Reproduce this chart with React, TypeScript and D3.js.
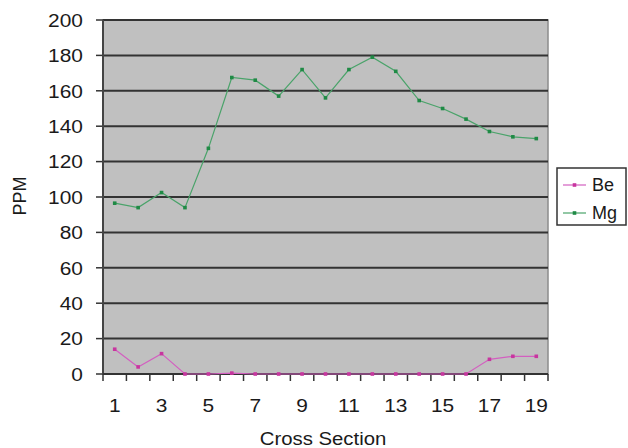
import React from "react";
import * as d3 from "d3";

const categories = ["1","2","3","4","5","6","7","8","9","10","11","12","13","14","15","16","17","18","19"];
const beValues = [14, 4, 11.5, 0, 0, 0.5, 0, 0, 0, 0, 0, 0, 0, 0, 0, 0, 8.3, 10, 10];
const mgValues = [96.5, 94, 102.5, 94, 127.5, 167.5, 166, 157, 172, 156, 172, 179, 171, 154.5, 150, 144, 137, 134, 133];
const yTicks = [0, 20, 40, 60, 80, 100, 120, 140, 160, 180, 200];
const seriesNames = ["Be", "Mg"];

const W = 628, H = 448;
const L = 103, R = 548, T = 20, B = 374;

export default function App() {
  const x = d3.scaleBand<string>().domain(categories).range([L, R]).paddingInner(0).paddingOuter(0);
  const y = d3.scaleLinear().domain([0, 200]).range([B, T]);
  const cx = (c: string) => (x(c) as number) + x.bandwidth() / 2;
  const line = d3.line<number>().x((_, i) => cx(categories[i])).y(d => y(d));
  const series = [
    { name: seriesNames[0], values: beValues, color: "#d35fc0", marker: "#c8359f" },
    { name: seriesNames[1], values: mgValues, color: "#4aa36a", marker: "#1f8a45" },
  ];
  const font = "Liberation Sans, Arial, sans-serif";
  const bounds = categories.map(c => x(c) as number).concat([R]);
  return (
    <svg width={W} height={H} style={{ position: "absolute", left: 0, top: 0, background: "#fff" }} fontFamily={font}>
      <rect x={L} y={T} width={R - L} height={B - T} fill="#c0c0c0" stroke="#8c8c8c" strokeWidth={1.5} />
      {yTicks.filter(t => t > 0).map(t => (
        <line key={t} x1={L} x2={R} y1={y(t)} y2={y(t)} stroke="#333" strokeWidth={2} />
      ))}
      {yTicks.map(t => (
        <g key={"yt" + t}>
          <line x1={L - 7} x2={L} y1={y(t)} y2={y(t)} stroke="#333" strokeWidth={1.5} />
          <text x={83} y={y(t)} dy="0.36em" textAnchor="end" fontSize={19} fill="#1a1a1a" transform={`translate(${83 * -0.1},0) scale(1.1,1)`}>{t}</text>
        </g>
      ))}
      <line x1={L} x2={L} y1={T} y2={B} stroke="#444" strokeWidth={2} />
      <line x1={L} x2={R} y1={B} y2={B} stroke="#333" strokeWidth={2} />
      {bounds.map((b, i) => (
        <line key={"xt" + i} x1={b} x2={b} y1={B} y2={B + 7} stroke="#333" strokeWidth={1.5} />
      ))}
      {categories.map((c, i) => i % 2 === 0 ? (
        <text key={"xl" + c} x={cx(c)} y={405.5} dy="0.36em" textAnchor="middle" fontSize={19} fill="#1a1a1a" transform={`translate(${cx(c) * -0.1},0) scale(1.1,1)`}>{c}</text>
      ) : null)}
      <text x={323} y={438} dy="0.36em" textAnchor="middle" fontSize={18.5} fill="#1a1a1a" transform={`translate(${323 * -0.1},0) scale(1.1,1)`}>Cross Section</text>
      <text transform={`translate(19.5,196) rotate(-90)`} textAnchor="middle" dy="0.36em" fontSize={18} fill="#1a1a1a">PPM</text>
      {series.map(s => (
        <g key={s.name}>
          <path d={line(s.values) || ""} fill="none" stroke={s.color} strokeWidth={1.2} />
          {s.values.map((v, i) => (
            <rect key={i} x={cx(categories[i]) - 1.8} y={y(v) - 1.8} width={3.6} height={3.6} fill={s.marker} />
          ))}
        </g>
      ))}
      <rect x={557} y={168} width={69} height={57} fill="#fff" stroke="#333" strokeWidth={1.5} />
      {series.map((s, i) => {
        const ly = 185 + i * 28;
        return (
          <g key={"lg" + s.name}>
            <line x1={563} x2={586} y1={ly} y2={ly} stroke={s.color} strokeWidth={1.2} />
            <rect x={574.5 - 1.8} y={ly - 1.8} width={3.6} height={3.6} fill={s.marker} />
            <text x={592} y={ly} dy="0.36em" fontSize={18} fill="#1a1a1a">{s.name}</text>
          </g>
        );
      })}
    </svg>
  );
}
